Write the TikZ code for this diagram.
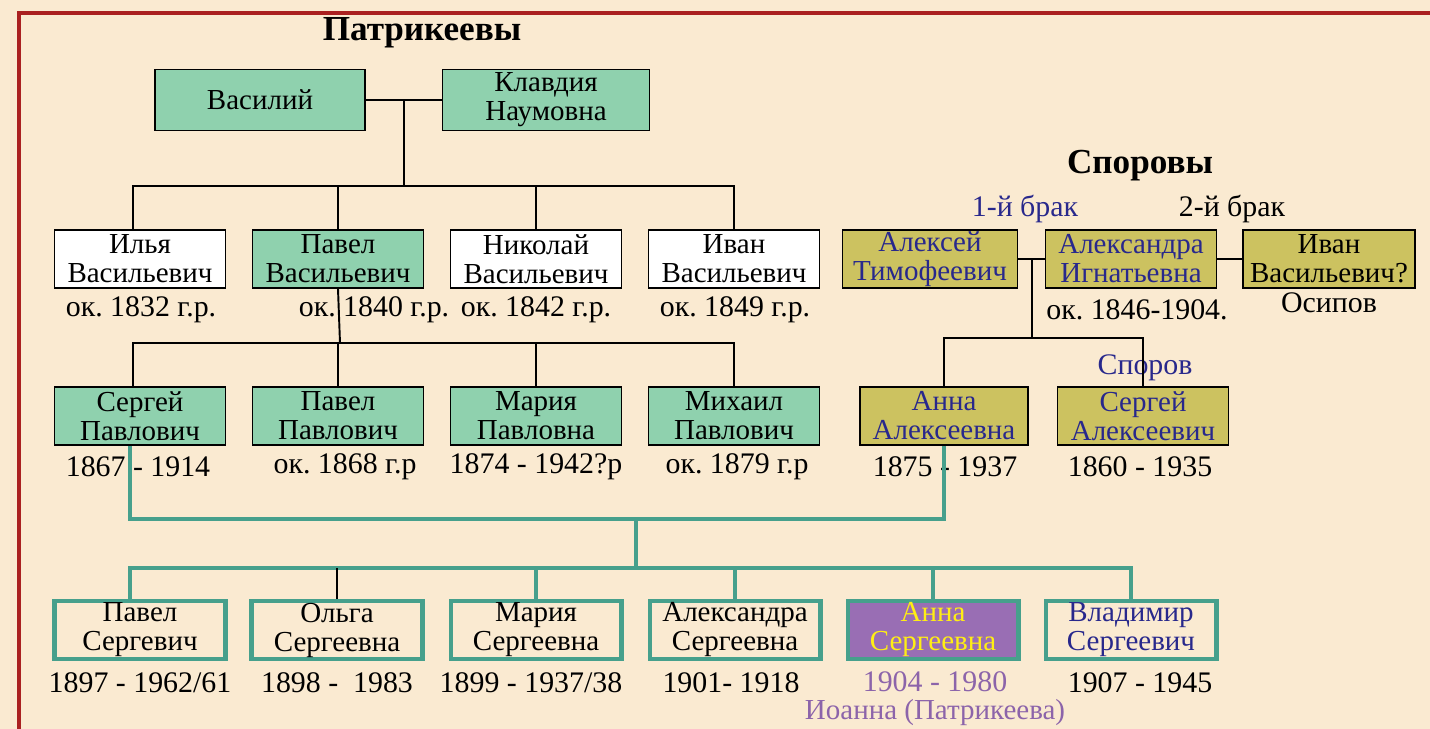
\documentclass[tikz,border=0pt]{standalone}
\usepackage{fontspec}
\setmainfont{Liberation Serif}
\usepackage{tikz}
\usetikzlibrary{arrows}

\definecolor{paper}{RGB}{250,234,209}
\definecolor{frame}{RGB}{170,32,32}
\definecolor{patgreen}{RGB}{143,209,174}
\definecolor{sporolive}{RGB}{204,194,96}
\definecolor{annafill}{RGB}{153,110,180}
\definecolor{kinline}{RGB}{70,160,140}
\definecolor{navytext}{RGB}{40,40,140}
\definecolor{yellowtext}{RGB}{255,238,20}
\definecolor{purpletext}{RGB}{140,100,170}

\newcommand\nmfont{\fontsize{16.5}{16.5}\selectfont}
\newcommand\dtfont{\fontsize{17}{18}\selectfont}
\frenchspacing

\tikzset{
  box/.style={draw,line width=1.1pt,minimum width=3.42cm,minimum height=1.16cm,
              inner sep=0pt,align=center,font=\nmfont},
  patbox/.style={box,fill=patgreen},
  plainbox/.style={box,fill=white},
  sporbox/.style={box,fill=sporolive,text=navytext},
  kidbox/.style={box,draw=kinline,line width=2.3pt},
  dt/.style={font=\dtfont,inner sep=0pt},
  ttl/.style={font=\fontsize{20}{22}\selectfont\bfseries,inner sep=0pt},
  tie/.style={line width=1.1pt},
  kin/.style={draw=kinline,line width=2.3pt}
}

\begin{document}
\begin{tikzpicture}[x=0.02cm,y=-0.02cm]
                \useasboundingbox[fill=paper] (0,0) rectangle (1430,729);
                \draw[frame,line width=1.8pt] (19,729) -- (19,13) -- (1430,13);

                % Patrikeev family
                \node[ttl] (tpat) at (422,33) {Патрикеевы};
                \node[patbox,minimum width=4.2cm,minimum height=1.22cm] (vas) at (260,100) {Василий};
                \node[patbox,minimum width=4.14cm,minimum height=1.22cm] (kla) at (546,100) {Клавдия\\Наумовна};

                \node[plainbox] (ilya) at (140,259) {Илья\\Васильевич};
                \node[patbox] (pav) at (338,259) {Павел\\Васильевич};
                \node[plainbox] (nik) at (536,259) {Николай\\Васильевич};
                \node[plainbox] (ivan) at (734,259) {Иван\\Васильевич};

                \node[dt] (dilya) at (141,310) {ок. 1832 г.р.};
                \node[dt] (dpav) at (374,310) {ок. 1840 г.р.};
                \node[dt] (dnik) at (536,310) {ок. 1842 г.р.};
                \node[dt] (divan) at (735,310) {ок. 1849 г.р.};

                \node[patbox] (serg) at (140,416) {Сергей\\Павлович};
                \node[patbox] (ppav) at (338,416) {Павел\\Павлович};
                \node[patbox] (mar) at (536,416) {Мария\\Павловна};
                \node[patbox] (mih) at (734,416) {Михаил\\Павлович};

                \node[dt] (dserg) at (138,467) {1867 - 1914};
                \node[dt] (dppav) at (345,467) {ок. 1868 г.р};
                \node[dt] (dmar) at (536,467) {1874 - 1942?р};
                \node[dt] (dmih) at (737,467) {ок. 1879 г.р};

                % Sporov family
                \node[ttl] (tspor) at (1140,166) {Споровы};
                \node[dt,text=navytext] (br1) at (1025,209) {1-й брак};
                \node[dt] (br2) at (1232,209) {2-й брак};

                \node[sporbox,minimum width=3.5cm] (alek) at (930,259) {Алексей\\Тимофеевич};
                \node[sporbox] (alex) at (1131,259) {Александра\\Игнатьевна};
                \node[sporbox,minimum width=3.44cm,text=black] (ivo) at (1329,259) {Иван\\Васильевич?};
                \node[dt] (dalex) at (1137,310) {ок. 1846-1904.};
                \node[dt] (osip) at (1329,303) {Осипов};

                \node[dt,text=navytext] (spor) at (1145,368) {Споров};
                \node[sporbox,minimum width=3.36cm] (annaA) at (944,416) {Анна\\Алексеевна};
                \node[sporbox] (sergA) at (1143,416) {Сергей\\Алексеевич};
                \node[dt] (dannaA) at (945,467) {1875 - 1937};
                \node[dt] (dsergA) at (1140,467) {1860 - 1935};

                % children of Sergei and Anna
                \node[kidbox] (pS) at (140,630) {Павел\\Сергевич};
                \node[kidbox] (olga) at (337,630) {Ольга\\Сергеевна};
                \node[kidbox] (mS) at (536,630) {Мария\\Сергеевна};
                \node[kidbox] (alS) at (735,630) {Александра\\Сергеевна};
                \node[kidbox,fill=annafill,text=yellowtext] (anS) at (933,630) {Анна\\Сергеевна};
                \node[kidbox,text=navytext] (vlad) at (1131,630) {Владимир\\Сергеевич};

                \node[dt] (dpS) at (140,683) {1897 - 1962/61};
                \node[dt] (dolga) at (337,683) {1898 -\ \ 1983};
                \node[dt] (dmS) at (531,683) {1899 - 1937/38};
                \node[dt] (dalS) at (731,683) {1901- 1918};
                \node[dt,text=purpletext] (danS) at (935,682) {1904 - 1980};
                \node[dt] (dvlad) at (1140,683) {1907 - 1945};
                \node[dt,text=purpletext,font=\fontsize{16.5}{17}\selectfont] (ioanna) at (935,713) {Иоанна (Патрикеева)};

                % connectors
                \coordinate (pj) at (404,186);
                \draw[tie] (vas.east) -- (kla.west);
                \draw[tie] (pj |- vas.east) -- (pj);
                \draw[tie] ([xshift=-0.14cm]ilya.north) |- (ivan.north |- pj) -- (ivan.north);
                \draw[tie] (pav.north) -- (pav.north |- pj);
                \draw[tie] (nik.north) -- (nik.north |- pj);

                \coordinate (sj) at (340,343);
                \draw[tie] (pav.south) -- (sj);
                \draw[tie] ([xshift=-0.14cm]serg.north) |- (mih.north |- sj) -- (mih.north);
                \draw[tie] (ppav.north) -- (ppav.north |- sj);
                \draw[tie] (mar.north) -- (mar.north |- sj);

                \coordinate (aj) at (1032,338);
                \draw[tie] (alek.east) -- (alex.west);
                \draw[tie] (alex.east) -- (ivo.west);
                \draw[tie] (aj |- alek.east) -- (aj);
                \draw[tie] (annaA.north) |- (sergA.north |- aj) -- (sergA.north);

                \coordinate (tj) at (636,519);
                \coordinate (cj) at (636,568);
                \draw[kin] ([xshift=-0.2cm]serg.south) |- (tj) -| (annaA.south);
                \draw[kin] (tj) -- (cj);
                \draw[kin] ([xshift=-0.2cm]pS.north) |- (vlad.north |- cj) -- (vlad.north);
                \draw[kin] (mS.north) -- (mS.north |- cj);
                \draw[kin] (alS.north) -- (alS.north |- cj);
                \draw[kin] (anS.north) -- (anS.north |- cj);
                \draw[line width=0.6pt] (olga.north) -- (olga.north |- cj);
            \end{tikzpicture}
\end{document}
